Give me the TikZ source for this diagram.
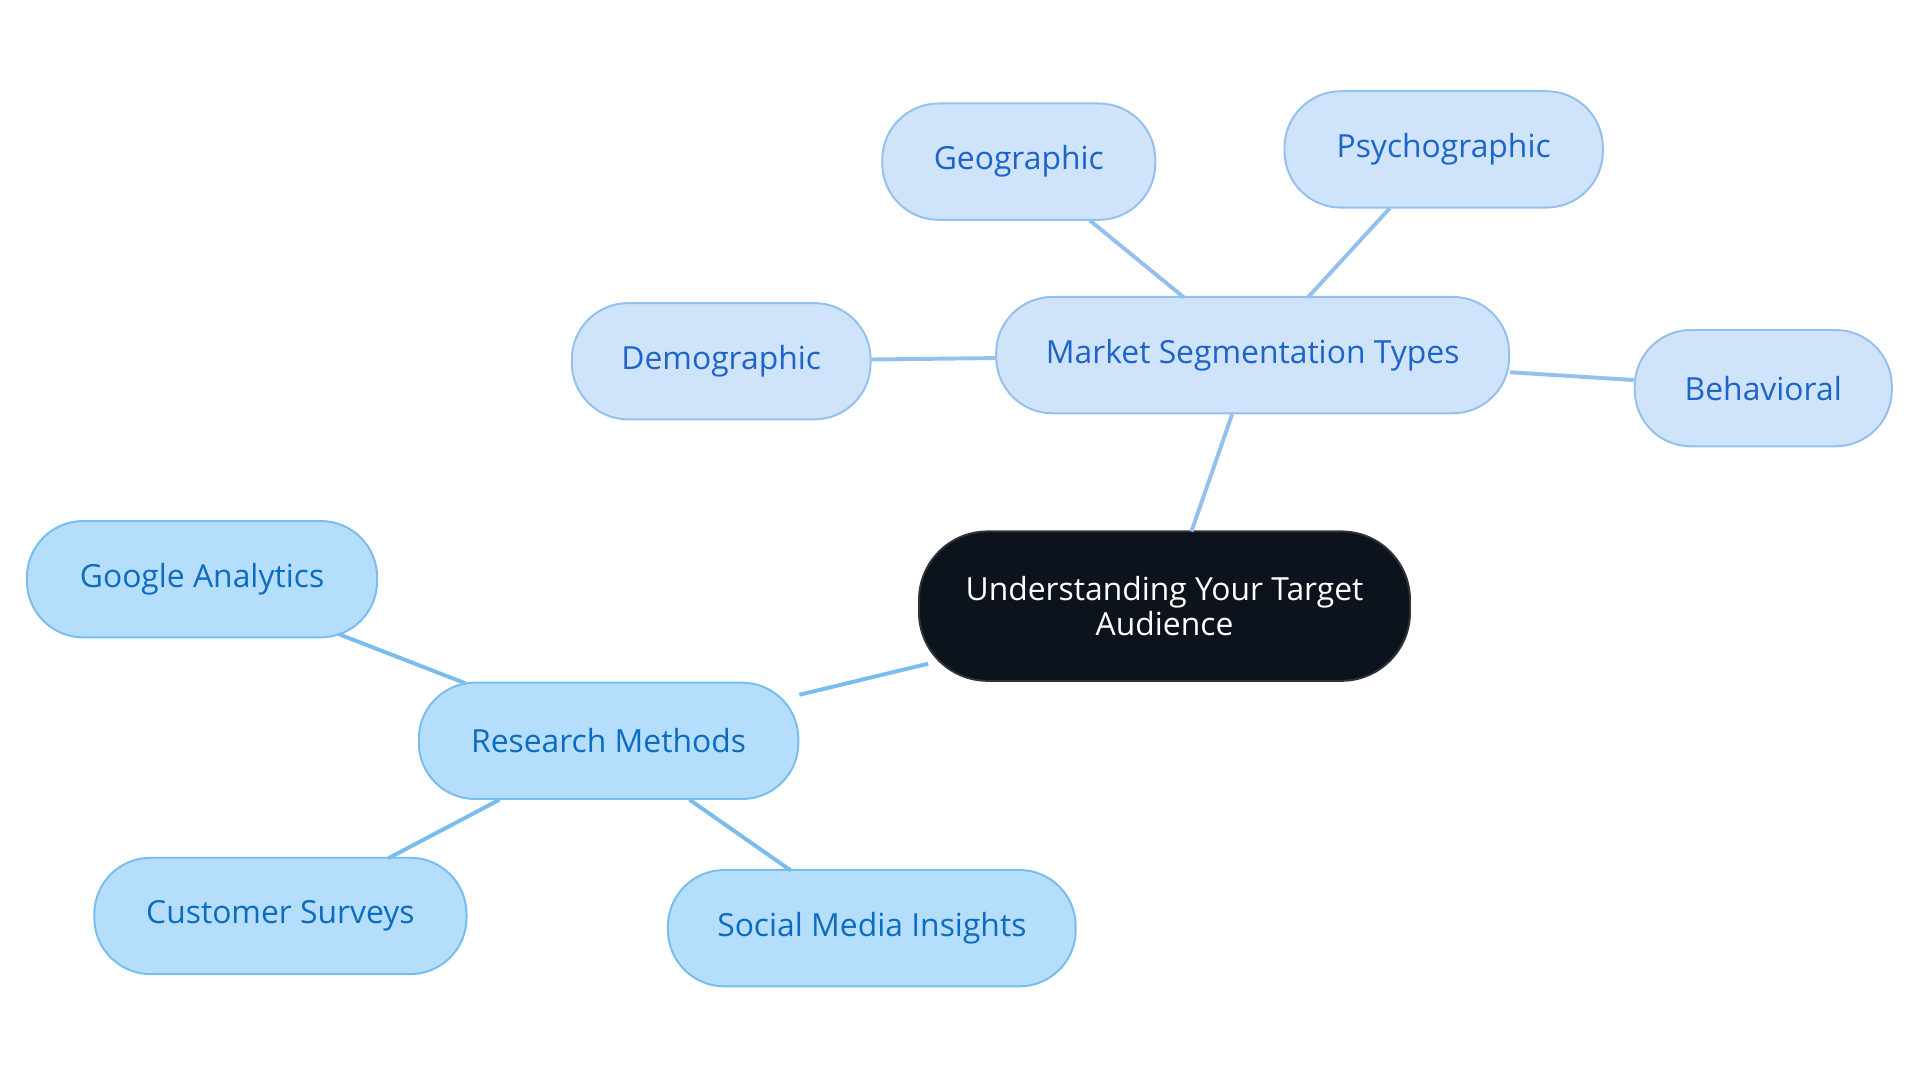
\documentclass[tikz,border=0pt]{standalone}
\usepackage{fontspec}
\setmainfont{Open Sans}
\definecolor{segF}{HTML}{CFE3FA}\definecolor{segD}{HTML}{94C0EE}\definecolor{segT}{HTML}{1C64C8}
\definecolor{resF}{HTML}{B5DEFC}\definecolor{resD}{HTML}{78BDEE}\definecolor{resT}{HTML}{0B6CC2}
\definecolor{ctrF}{HTML}{0D131C}
\begin{document}
\begin{tikzpicture}[x=0.5pt,y=-0.5pt,
 box/.style={rounded corners=23pt,line width=0.8pt,inner sep=0pt,minimum height=47.5pt,font=\fontsize{13}{14}\selectfont},
 seg/.style={box,fill=segF,draw=segD,text=segT},
 res/.style={box,fill=resF,draw=resD,text=resT},
 se/.style={draw=segD,line width=1.6pt},
 re/.style={draw=resD,line width=1.6pt}]
\useasboundingbox (0,0) rectangle (1568,884);
\node[box,fill=ctrF,draw=ctrF!70!gray,text=white,minimum width=200.5pt,minimum height=61pt,rounded corners=28pt,align=center,font=\fontsize{13}{14}\selectfont] (c) at (951,495) {Understanding Your Target\\Audience};
\node[seg,minimum width=209.5pt] (m) at (1023,290) {Market Segmentation Types};
\node[seg,minimum width=122pt] (d) at (589,295) {Demographic};
\node[seg,minimum width=111.5pt] (g) at (832,132) {Geographic};
\node[seg,minimum width=130pt] (p) at (1179,122) {Psychographic};
\node[seg,minimum width=105pt] (b) at (1440,317) {Behavioral};
\node[res,minimum width=155pt] (r) at (497,605) {Research Methods};
\node[res,minimum width=143pt] (ga) at (165,473) {Google Analytics};
\node[res,minimum width=152pt] (cs) at (229,748) {Customer Surveys};
\node[res,minimum width=166.5pt] (sm) at (712,758) {Social Media Insights};
\draw[se] (973,434) -- (m);
\draw[se] (m) -- (d);
\draw[se] (967,243) -- (890,180);
\draw[se] (1068,243) -- (1135,170);
\draw[se] (m.east) ++(0,14) -- (b);
\draw[re] (758,542) -- (r);
\draw[re] (380,558) -- (277,518);
\draw[re] (408,653) -- (317,701);
\draw[re] (563,653) -- (646,711);
\end{tikzpicture}
\end{document}
